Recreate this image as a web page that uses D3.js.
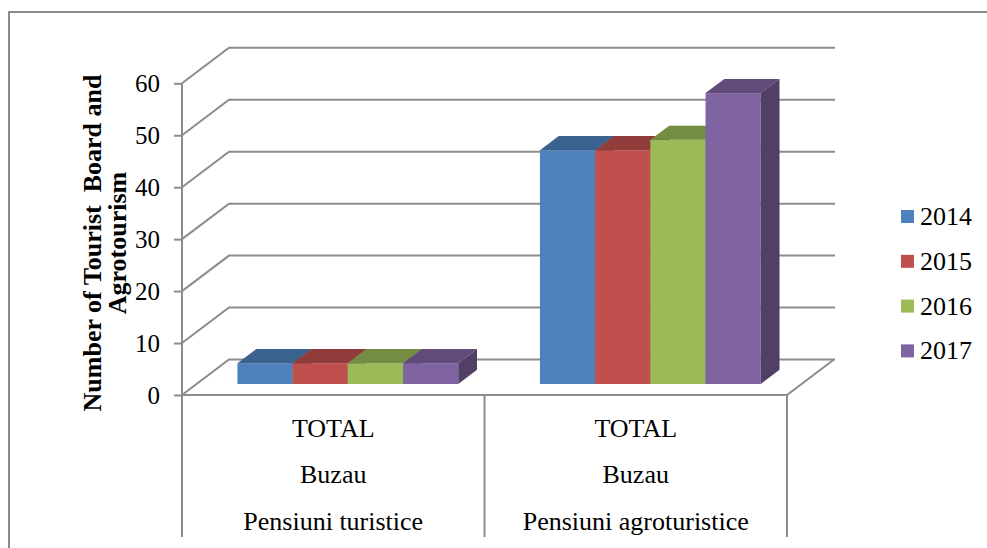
<!DOCTYPE html>
<html>
<head>
<meta charset="utf-8">
<script src="https://cdn.jsdelivr.net/npm/d3@7"></script>
<style>
  body { margin: 0; background: #fff; }
  svg { display: block; }
</style>
</head>
<body>
<svg id="chart"></svg>
<script>
// data
const categories = ["Pensiuni turistice", "Pensiuni agroturistice"];
const catLevel1 = ["TOTAL", "TOTAL"];
const catLevel2 = ["Buzau", "Buzau"];
const years = ["2014", "2015", "2016", "2017"];
const values2014 = [4, 45];
const values2015 = [4, 45];
const values2016 = [4, 47];
const values2017 = [4, 56];
const yTicks = [0, 10, 20, 30, 40, 50, 60];
const colors = ["#4F81BD", "#C0504D", "#9BBB59", "#8064A2"];

const seriesValues = [values2014, values2015, values2016, values2017];

const width = 987, height = 548;
const grid = "#8c8c8c";
const font = "'Liberation Serif', 'Times New Roman', serif";

// 3d depth of the plot box
const depthX = 47, depthY = 35.5;
const barFront = 0.31, barBack = 0.71;
const plotLeft = 182, plotRight = 787, tableBottom = 537;

const svg = d3.select("#chart").attr("width", width).attr("height", height);

const y = d3.scaleLinear().domain([0, 60]).range([395, 83.3]);

const x0 = d3.scaleBand()
    .domain(categories)
    .range([plotLeft, plotRight])
    .padding(0);

const x1 = d3.scaleBand()
    .domain(years)
    .range([0, x0.bandwidth()])
    .paddingInner(0)
    .paddingOuter(0.74);

// outer frame (clipped at right/bottom like the source)
svg.append("rect")
    .attr("x", 9).attr("y", 12)
    .attr("width", 1100).attr("height", 700)
    .attr("fill", "none").attr("stroke", "#8a8a8a").attr("stroke-width", 2);

// back wall + side wall gridlines
svg.append("g")
    .selectAll("polyline")
    .data(yTicks)
    .join("polyline")
    .attr("points", d => {
        const yy = y(d);
        return [[plotLeft, yy], [plotLeft + depthX, yy - depthY], [plotRight + depthX + 1, yy - depthY]].join(" ");
    })
    .attr("fill", "none")
    .attr("stroke", grid)
    .attr("stroke-width", 2);

// floor front edge and right edge
svg.append("polyline")
    .attr("points", [[plotLeft, y(0)], [plotRight, y(0)], [plotRight + depthX, y(0) - depthY]].join(" "))
    .attr("fill", "none").attr("stroke", grid).attr("stroke-width", 2);

// vertical axis line and category table lines
svg.append("line")
    .attr("x1", plotLeft).attr("x2", plotLeft)
    .attr("y1", y(60)).attr("y2", tableBottom)
    .attr("stroke", grid).attr("stroke-width", 2);

svg.append("g")
    .selectAll("line")
    .data(categories)
    .join("line")
    .attr("x1", d => x0(d) + x0.bandwidth())
    .attr("x2", d => x0(d) + x0.bandwidth())
    .attr("y1", y(0))
    .attr("y2", tableBottom)
    .attr("stroke", grid).attr("stroke-width", 2);

// y axis ticks + labels
const yAxis = svg.append("g")
    .attr("transform", `translate(${plotLeft},0)`)
    .call(d3.axisLeft(y).tickValues(yTicks).tickSize(8).tickPadding(14));
yAxis.select(".domain").remove();
yAxis.selectAll("line").attr("stroke", grid).attr("stroke-width", 2);
yAxis.selectAll("text")
    .attr("font-family", font)
    .attr("font-size", 25)
    .attr("fill", "#000");

// bars
const fx = barFront * depthX, fy = barFront * depthY;
const bx = (barBack - barFront) * depthX, by = (barBack - barFront) * depthY;
const bw = x1.bandwidth();

const bars = [];
categories.forEach((c, ci) => {
    years.forEach((yr, si) => {
        bars.push({ cat: c, year: yr, value: seriesValues[si][ci], color: colors[si] });
    });
});

const barG = svg.append("g")
    .selectAll("g")
    .data(bars)
    .join("g");

barG.append("rect")
    .attr("x", d => x0(d.cat) + x1(d.year) + fx)
    .attr("y", d => y(d.value) - fy)
    .attr("width", bw)
    .attr("height", d => y(0) - y(d.value))
    .attr("fill", d => d.color);

barG.append("polygon")
    .attr("points", d => {
        const xl = x0(d.cat) + x1(d.year) + fx, yt = y(d.value) - fy;
        return [[xl, yt], [xl + bw, yt], [xl + bw + bx, yt - by], [xl + bx, yt - by]].join(" ");
    })
    .attr("fill", d => d3.color(d.color).darker(0.8));

barG.append("polygon")
    .attr("points", d => {
        const xr = x0(d.cat) + x1(d.year) + fx + bw, yt = y(d.value) - fy, yb = y(0) - fy;
        return [[xr, yt], [xr + bx, yt - by], [xr + bx, yb - by], [xr, yb]].join(" ");
    })
    .attr("fill", d => d3.color(d.color).darker(1.3));

// category labels (three levels)
const labelRows = [catLevel1, catLevel2, categories];
const rowBaselines = [437, 483, 530];
labelRows.forEach((row, ri) => {
    svg.append("g")
        .selectAll("text")
        .data(row)
        .join("text")
        .attr("x", (d, i) => x0(categories[i]) + x0.bandwidth() / 2)
        .attr("y", rowBaselines[ri])
        .attr("text-anchor", "middle")
        .attr("font-family", font)
        .attr("font-size", 26)
        .attr("fill", "#000")
        .text(d => d);
});

// y axis title
const title = svg.append("text")
    .attr("transform", "translate(0,243) rotate(-90)")
    .attr("text-anchor", "middle")
    .attr("font-family", font)
    .attr("font-size", 26)
    .attr("font-weight", "bold")
    .attr("fill", "#000");
title.append("tspan").attr("x", 0).attr("y", 101).attr("xml:space", "preserve").text("Number of Tourist  Board and");
title.append("tspan").attr("x", 0).attr("y", 126).text("Agrotourism");

// legend
const legend = svg.append("g")
    .selectAll("g")
    .data(years)
    .join("g")
    .attr("transform", (d, i) => `translate(901,${216.5 + i * 44.8})`);

legend.append("rect")
    .attr("x", 0).attr("y", -6.5)
    .attr("width", 13).attr("height", 13)
    .attr("fill", (d, i) => colors[i]);

legend.append("text")
    .attr("x", 19).attr("y", 8.5)
    .attr("font-family", font)
    .attr("font-size", 26)
    .attr("fill", "#000")
    .text(d => d);
</script>
</body>
</html>
